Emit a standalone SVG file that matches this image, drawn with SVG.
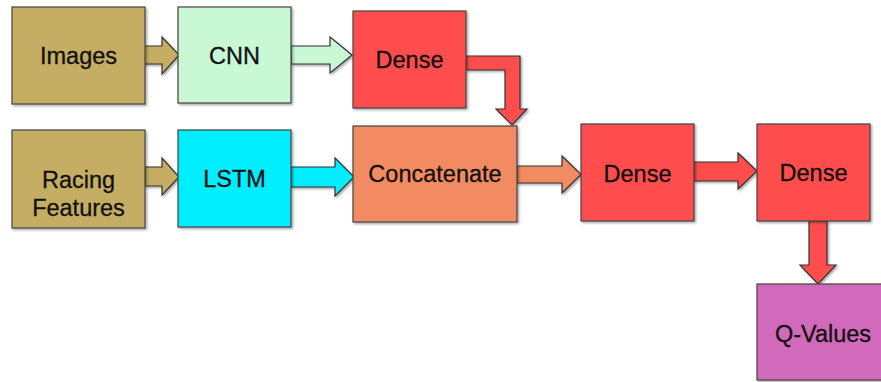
<svg xmlns="http://www.w3.org/2000/svg" width="881" height="382" viewBox="0 0 881 382">
<defs>
<filter id="sh" x="-10%" y="-10%" width="130%" height="130%">
<feDropShadow dx="1.5" dy="1.5" stdDeviation="1.2" flood-color="#000" flood-opacity="0.35"/>
</filter>
</defs>
<style>
.box{stroke:#444;stroke-width:1.2;filter:url(#sh)}
.arr{stroke:#333;stroke-width:1.2;stroke-linejoin:miter;filter:url(#sh)}
.lbl{font-family:"Liberation Sans",Arial,sans-serif;font-size:23.5px;fill:#111;text-anchor:middle;stroke:#111;stroke-width:0.3}
.tan{fill:#C5AE63}.grn{fill:#C8F8D4}.cyn{fill:#00EEFF}.red{fill:#FF4D4D}.org{fill:#F28A62}.mag{fill:#D16BBB}
</style>
<rect width="881" height="382" fill="#fff"/>
<g id="connectors">
<polygon class="arr tan" points="143,46 162,46 162,37 179,55 162,74 162,64 143,64"/>
<polygon class="arr grn" points="291,46 330,46 330,37 352,55 330,73 330,64 291,64"/>
<polygon class="arr tan" points="145,167 162,167 162,158 179,177 162,195 162,186 145,186"/>
<polygon class="arr cyn" points="291,167 335,167 335,158 354,177 335,196 335,187 291,187"/>
<polygon class="arr red" points="466,56 520,56 520,109 527,109 512,125 496,109 505,109 505,70 466,70"/>
<polygon class="arr org" points="517,166 562,166 562,156 581,174.5 562,193 562,183 517,183"/>
<polygon class="arr red" points="694,162 738,162 738,153 757,171 738,189 738,181 694,181"/>
<polygon class="arr red" points="809,221 827,221 827,265 836,265 818,284 800,265 809,265"/>
</g>
<g id="images"><rect class="box tan" x="12" y="7" width="133" height="97"/><text class="lbl" x="78.5" y="64">Images</text></g>
<g id="cnn"><rect class="box grn" x="178" y="7" width="113" height="96"/><text class="lbl" x="234.5" y="64">CNN</text></g>
<g id="dense1"><rect class="box red" x="353" y="11" width="113" height="97"/><text class="lbl" x="409.5" y="68">Dense</text></g>
<g id="racing"><rect class="box tan" x="12" y="130" width="133" height="98"/><text class="lbl" x="78.5" y="188">Racing</text><text class="lbl" x="78.5" y="216">Features</text></g>
<g id="lstm"><rect class="box cyn" x="178" y="130" width="113" height="97"/><text class="lbl" x="234.5" y="187">LSTM</text></g>
<g id="concat"><rect class="box org" x="353" y="126" width="164" height="96"/><text class="lbl" x="435" y="182">Concatenate</text></g>
<g id="dense2"><rect class="box red" x="581" y="124" width="113" height="97"/><text class="lbl" x="637.5" y="182">Dense</text></g>
<g id="dense3"><rect class="box red" x="757" y="124" width="113" height="97"/><text class="lbl" x="813.5" y="181">Dense</text></g>
<g id="qvalues"><rect class="box mag" x="757" y="284" width="132" height="96"/><text class="lbl" x="823" y="342">Q-Values</text></g>
</svg>
